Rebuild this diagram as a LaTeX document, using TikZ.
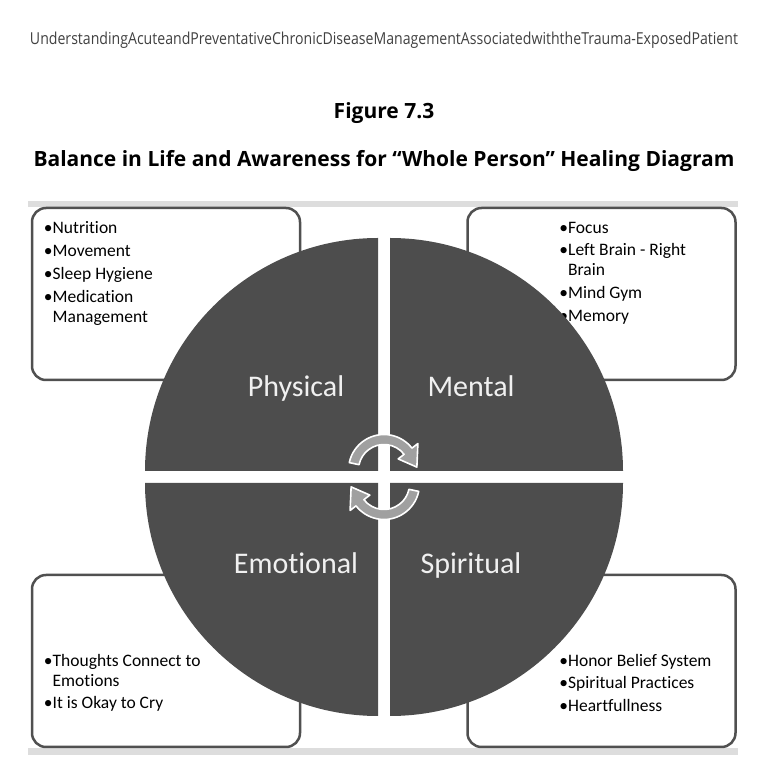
\documentclass[tikz,border=0pt]{standalone}
\usepackage{fontspec}
\setmainfont{Carlito}[Ligatures=NoCommon]
\newfontfamily\headfont{Open Sans}
\usepackage{tikz}
\usetikzlibrary{positioning,calc}

\definecolor{quadgray}{RGB}{77,77,77}
\definecolor{boxline}{RGB}{80,80,80}
\definecolor{bandgray}{RGB}{221,221,221}
\definecolor{turngray}{RGB}{160,160,160}

\begin{document}
\begin{tikzpicture}[
    x=1pt, y=1pt,
    box/.style={draw=boxline, line width=2.5pt, rounded corners=14pt, fill=white, minimum width=268pt, minimum height=172pt, inner sep=0pt},
    items/.style={align=left, inner sep=0pt, font=\fontsize{17.5}{20}\selectfont},
    quad/.style={fill=quadgray},
    qlabel/.style={text=white!94!black, inner sep=0pt, anchor=base, font=\fontsize{30}{36}\selectfont},
    band/.style={fill=bandgray},
    turn/.style={fill=turngray, draw=white, line width=1.6pt, line join=round}
]
\useasboundingbox (0,0) rectangle (768,780);

\node[font=\headfont, text=black!75] (running) at (384,740) {\resizebox{708pt}{12.5pt}{UnderstandingAcuteandPreventativeChronicDiseaseManagementAssociatedwiththeTrauma-ExposedPatient}};
\node[font=\headfont\bfseries\fontsize{21}{25}\selectfont] (fig) at (384,667) {Figure 7.3};
\node[font=\headfont\bfseries\fontsize{21}{25}\selectfont] (title) at (384,619) {Balance in Life and Awareness for “Whole Person” Healing Diagram};

\fill[band] (28,573) rectangle (738,579);
\fill[band] (28,25) rectangle (738,32);

\node[box] (physbox) at (166,486) {};
\node[box] (mentbox) at (601.5,486) {};
\node[box] (emotbox) at (166,119) {};
\node[box] (spirbox) at (601.5,119) {};

\node[items, below right=15pt and 13pt of physbox.north west] (physlist) {•Nutrition\\[2.7pt] •Movement\\[2.7pt] •Sleep Hygiene\\[2.7pt] •Medication\\ \phantom{•}Management};
\node[items, below right=15pt and 93pt of mentbox.north west] (mentlist) {•Focus\\[2.7pt] •Left Brain - Right\\ \phantom{•}Brain\\[2.7pt] •Mind Gym\\[2.7pt] •Memory};
\node[items, below right=80pt and 13pt of emotbox.north west] (emotlist) {•Thoughts Connect to\\ \phantom{•}Emotions\\[2.7pt] •It is Okay to Cry};
\node[items, below right=80pt and 93pt of spirbox.north west] (spirlist) {•Honor Belief System\\[2.7pt] •Spiritual Practices\\[2.7pt] •Heartfullness};

\coordinate (hub) at (384,303);
\foreach \a/\dx/\dy in {90/-6/6, 0/6/6, 180/-6/-6, 270/6/-6}
  \fill[quad] ($(hub)+(\dx,\dy)$) -- ++(\a:233) arc[start angle=\a, end angle=\a+90, radius=233] -- cycle;

\node[qlabel] (physical) at (296,383) {Physical};
\node[qlabel] (mental) at (471,383) {Mental};
\node[qlabel] (emotional) at (296,206) {Emotional};
\node[qlabel] (spiritual) at (471,206) {Spiritual};

\foreach \cy/\r in {310/0, 296/180}
  \filldraw[turn, shift={(384,\cy)}, rotate=\r] (168:25.5) -- (168:35.5) arc[start angle=168, end angle=38, radius=35.5] -- (38:43) -- (5:33) -- (38:18) -- (38:25.5) arc[start angle=38, end angle=168, radius=25.5] -- cycle;
\end{tikzpicture}
\end{document}
